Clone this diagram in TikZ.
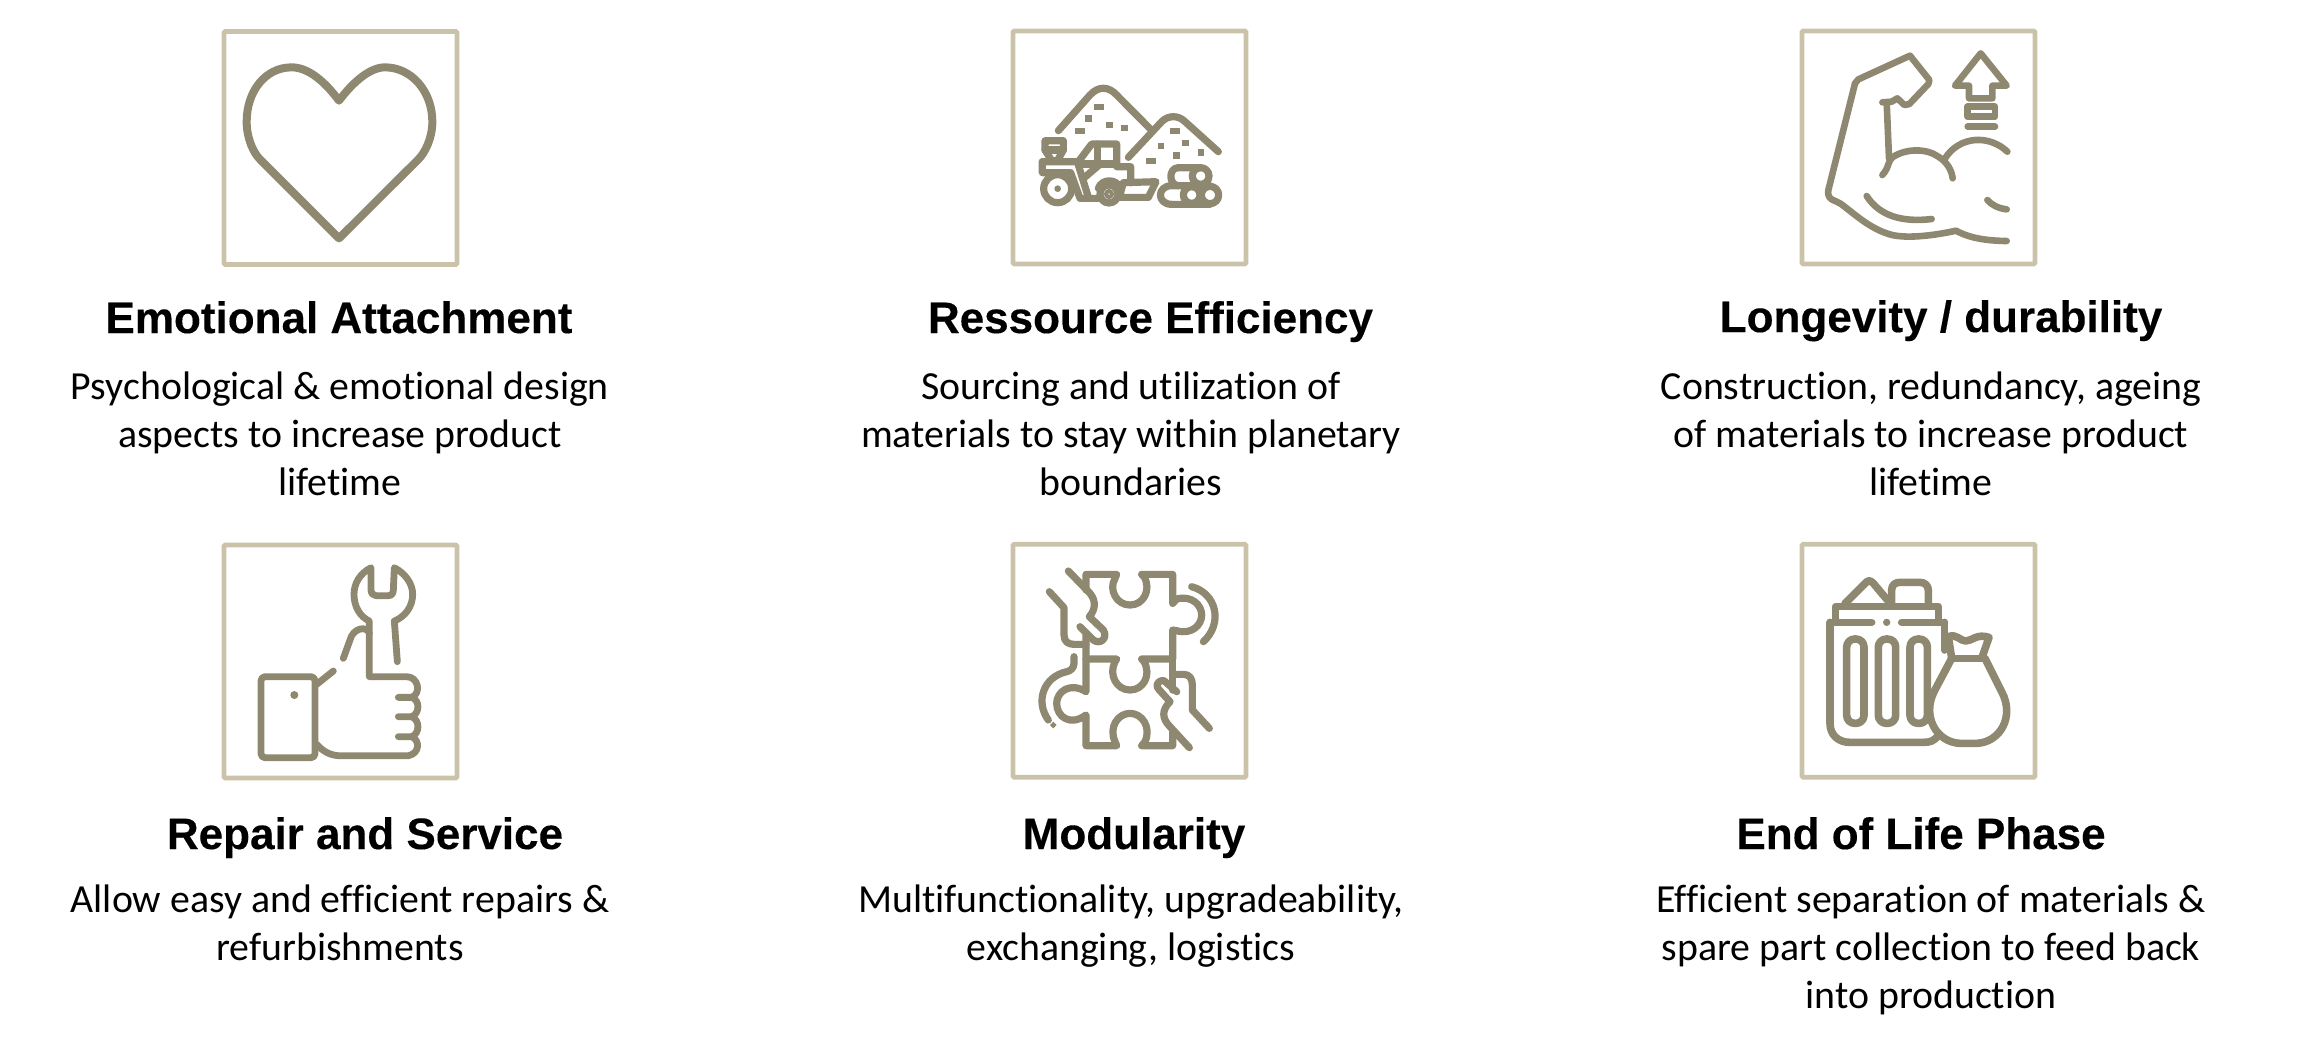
\documentclass[tikz,border=0pt]{standalone}
\usepackage{fontspec}
\setmainfont{Carlito}[Ligatures=NoCommon]
\newfontfamily\titlefont{Liberation Sans}[BoldFont={Liberation Sans Bold},BoldFeatures={FakeBold=0.25}]
\definecolor{frame}{HTML}{CAC3A9}
\definecolor{ink}{HTML}{8F8870}
\tikzset{
  tile/.style={draw=frame,line width=2.35pt,rounded corners=0.6pt,inner sep=0pt,minimum width=116.5pt,minimum height=116.5pt},
  ttl/.style={font=\titlefont\bfseries\fontsize{22}{26}\selectfont,inner sep=0pt,text=black,anchor=base},
  desc/.style={font=\fontsize{19.9}{24}\selectfont,inner sep=0pt,align=center,text=black,anchor=base},
  art/.style={draw=ink,line width=#1,line join=round,line cap=round},
  art/.default=3.6pt,
  icon/.style={x=0.16667pt,y=-0.16667pt}
}
\begin{document}
\begin{tikzpicture}[x=0.5pt,y=-0.5pt]
\useasboundingbox (0,0) rectangle (2301,1041);
% frames
\node[tile] (b1) at (340.5,148) {};
\node[tile] (b2) at (1129.5,147.5) {};
\node[tile] (b3) at (1918.5,147.5) {};
\node[tile] (b4) at (340.5,661.5) {};
\node[tile] (b5) at (1129.5,660.8) {};
\node[tile] (b6) at (1918.5,660.8) {};
% titles
\node[ttl] (t1) at (339,333) {Emotional Attachment};
\node[ttl] (t2) at (1150.5,333) {Ressource Efficiency};
\node[ttl] (t3) at (1941,332) {Longevity / durability};
\node[ttl] (t4) at (365,849) {Repair and Service};
\node[ttl] (t5) at (1134,849) {Modularity};
\node[ttl] (t6) at (1921,849) {End of Life Phase};
% descriptions
\node[desc] (d1) at (340,495) {Psychological \& emotional design\\aspects to increase product\\lifetime};
\node[desc] (d2) at (1131,495) {Sourcing and utilization of\\materials to stay within planetary\\boundaries};
\node[desc] (d3) at (1931,495) {Construction, redundancy, ageing\\of materials to increase product\\lifetime};
\node[desc] (d4) at (340,960) {Allow easy and efficient repairs \&\\refurbishments};
\node[desc] (d5) at (1131,960) {Multifunctionality, upgradeability,\\exchanging, logistics};
\node[desc] (d6) at (1931,1008) {Efficient separation of materials \&\\spare part collection to feed back\\into production};
% heart
\begin{scope}[shift={(210,10)},icon]
\draw[art=4pt] (387,272) .. controls (345,215) and (295,172) .. (245,172) .. controls (165,172) and (110,245) .. (110,335) .. controls (110,385) and (130,428) .. (150,448) -- (387,685) -- (625,448) .. controls (645,428) and (667,385) .. (667,335) .. controls (667,245) and (605,172) .. (525,172) .. controls (480,172) and (430,215) .. (387,272) -- cycle;
\end{scope}
% resources
\begin{scope}[shift={(1000,20)},icon]
\draw[art] (175,332) -- (270,225) .. controls (295,198) and (325,198) .. (350,225) -- (452,328);
\draw[art] (385,412) -- (485,305) .. controls (505,285) and (535,285) .. (555,305) -- (655,395);
\foreach \p in {(297,260),(240,333),(525,333),(452,424)} \fill[ink] \p ++(-15,-9) rectangle ++(30,18);
\foreach \p in {(265,296),(328,315),(374,324),(483,378),(557,369),(530,406),(603,397)} \fill[ink] \p ++(-10,-10) rectangle ++(20,20);
% tractor
\draw[art] (135,362) -- (190,362) -- (190,390) -- (172,422) -- (155,422) -- (135,390) -- cycle;
\draw[art] (135,390) -- (190,390);
\draw[art] (127,425) -- (235,425) -- (275,372) -- (350,372) -- (350,440) -- (392,440) -- (392,488);
\draw[art] (127,425) -- (127,458) -- (212,458) -- (240,535) -- (295,535);
\draw[art] (292,372) -- (292,432) -- (350,432);
\draw[art] (238,432) -- (292,432);
\draw[art] (235,435) -- (266,535);
\draw[art] (254,472) -- (296,436);
\draw[art] (295,505) .. controls (305,475) and (350,475) .. (362,505);
\draw[art] (370,488) -- (468,485) -- (445,532) -- (358,532) -- cycle;
\draw[art] (173,506) circle[radius=42];
\fill[ink] (173,506) circle[radius=10];
\draw[art] (327,522) circle[radius=27];
\draw[art=2pt] (327,522) circle[radius=9];
% logs
\draw[art] (602,443) -- (535,443) .. controls (505,443) and (505,495) .. (535,497);
\draw[art] (602,468) circle[radius=25];
\draw[art] (630,497) -- (515,497) .. controls (470,497) and (470,553) .. (515,553) -- (630,553);
\draw[art] (630,525) circle[radius=26];
\draw[art] (575,525) circle[radius=25];
\end{scope}
% muscle
\begin{scope}[shift={(1790,20)},icon]
\tikzset{every path/.append style={art=3.3pt}}
\draw (650,663) .. controls (590,662) and (540,655) .. (498,632) .. controls (440,645) and (340,660) .. (290,640) .. controls (230,620) and (180,570) .. (150,550) -- (125,538) .. controls (115,532) and (113,520) .. (115,510) -- (195,190) -- (205,178) -- (360,107) -- (418,180) -- (415,192) -- (358,252) -- (343,255) -- (322,235) -- (305,245) -- (277,247);
\draw (290,247) -- (297,415);
\draw (277,465) .. controls (300,440) and (290,425) .. (310,410) .. controls (350,385) and (410,385) .. (445,410) .. controls (470,425) and (485,450) .. (488,475);
\draw (465,415) .. controls (510,345) and (600,345) .. (652,395);
\draw (230,528) .. controls (270,590) and (340,607) .. (425,597);
\draw (592,540) .. controls (605,555) and (625,565) .. (650,568);
\draw (572,100) -- (650,197) -- (607,197) -- (607,235) -- (537,235) -- (537,197) -- (495,197) -- cycle;
\draw (533,260) rectangle (615,290);
\draw (533,320) -- (615,320);
\end{scope}
% thumb and wrench
\begin{scope}[shift={(210,535)},icon]
\tikzset{every path/.append style={art=3.4pt}}
\draw[rounded corners=2pt] (153,425) rectangle (315,668);
\fill[ink,draw=none] (253,480) circle[radius=12];
\draw (320,448) -- (370,408);
\draw (400,370) -- (420,315) .. controls (428,280) and (470,270) .. (478,295) -- (478,425) -- (590,425) .. controls (625,425) and (635,475) .. (605,487) -- (565,487);
\draw (605,487) .. controls (630,495) and (630,535) .. (605,545) -- (565,545);
\draw (605,545) .. controls (630,555) and (630,595) .. (605,605) -- (565,605);
\draw (605,605) .. controls (630,615) and (630,655) .. (595,662) -- (385,662) .. controls (360,660) and (340,650) .. (320,628);
\draw (478,295) -- (478,258) .. controls (450,245) and (432,215) .. (432,178) .. controls (432,145) and (450,115) .. (483,98) -- (483,165) .. controls (483,175) and (490,182) .. (498,182) -- (535,182) .. controls (545,182) and (550,175) .. (550,165) -- (553,98) .. controls (585,115) and (608,145) .. (608,178) .. controls (608,215) and (585,245) .. (553,258) -- (562,380);
\end{scope}
% puzzle
\begin{scope}[shift={(1000,535)},icon]
% upper piece
\draw[art] (258,165) -- (258,118) -- (350,118) -- (345,130) .. controls (325,165) and (350,210) .. (390,210) .. controls (430,210) and (455,165) .. (432,125) -- (425,118) -- (518,118) -- (518,205) -- (530,192) .. controls (575,180) and (605,210) .. (605,240) .. controls (605,270) and (575,300) .. (530,287) -- (518,285) -- (518,372) -- (425,372) -- (432,380) .. controls (455,420) and (430,465) .. (390,465) .. controls (350,465) and (325,420) .. (345,380) -- (350,372) -- (258,372);
\draw[art] (258,295) -- (258,470) .. controls (210,440) and (170,470) .. (170,505) .. controls (170,545) and (210,575) .. (258,540) -- (258,632) -- (350,632) -- (345,620) .. controls (325,575) and (355,535) .. (390,535) .. controls (425,535) and (455,575) .. (435,620) -- (425,632) -- (518,632) -- (518,590);
\draw[art] (518,372) -- (518,465);
% upper hand
\draw[art] (205,108) -- (270,175) .. controls (290,200) and (285,225) .. (268,245) -- (310,285) .. controls (325,310) and (300,330) .. (280,315) -- (240,275);
\draw[art] (148,170) -- (192,218) -- (192,300) .. controls (192,320) and (205,328) .. (222,328) -- (258,328);
\draw[art] (575,155) .. controls (650,175) and (670,265) .. (610,320);
% lower hand
\draw[art] (530,470) -- (492,437) .. controls (470,435) and (465,455) .. (478,465) -- (510,500) .. controls (485,525) and (485,550) .. (510,575) -- (568,638);
\draw[art] (518,418) -- (550,418) .. controls (568,418) and (577,430) .. (577,450) -- (577,525) -- (628,580);
\draw[art] (222,365) -- (222,385) .. controls (222,400) and (210,408) .. (200,410) .. controls (130,425) and (105,500) .. (145,555);
\fill[ink] (160,560) -- (170,570) -- (160,580) -- (150,570) -- cycle;
\end{scope}
% bin and bag
\begin{scope}[shift={(1790,535)},icon]
\tikzset{every path/.append style={art=3.8pt}}
\draw (137,262) -- (137,215) -- (445,215) -- (445,262);
\draw (120,262) -- (245,262);
\draw (335,262) -- (463,262);
\fill[ink,draw=none] (290,262) circle[radius=11];
\draw (120,262) -- (120,565) .. controls (120,600) and (145,622) .. (180,622) -- (400,622) .. controls (420,622) and (430,618) .. (442,605);
\draw (463,262) -- (463,345);
\draw (165,205) -- (225,145) .. controls (235,135) and (240,135) .. (250,145) -- (292,195);
\draw (305,205) -- (305,165) .. controls (305,150) and (315,142) .. (330,142) -- (390,142) .. controls (405,142) and (415,152) .. (415,167) -- (415,205);
\foreach \xa in {170,265,360}
  \draw[rounded corners=4pt] (\xa,312) rectangle ++(52,253);
\draw (485,370) -- (575,370);
\draw (485,370) -- (475,305) .. controls (500,295) and (510,318) .. (527,318) .. controls (545,318) and (560,295) .. (597,307) -- (575,370);
\draw (485,370) -- (432,470) .. controls (395,545) and (440,622) .. (510,625) -- (560,625) .. controls (630,622) and (675,545) .. (635,470) -- (585,370);
\end{scope}
\end{tikzpicture}
\end{document}
